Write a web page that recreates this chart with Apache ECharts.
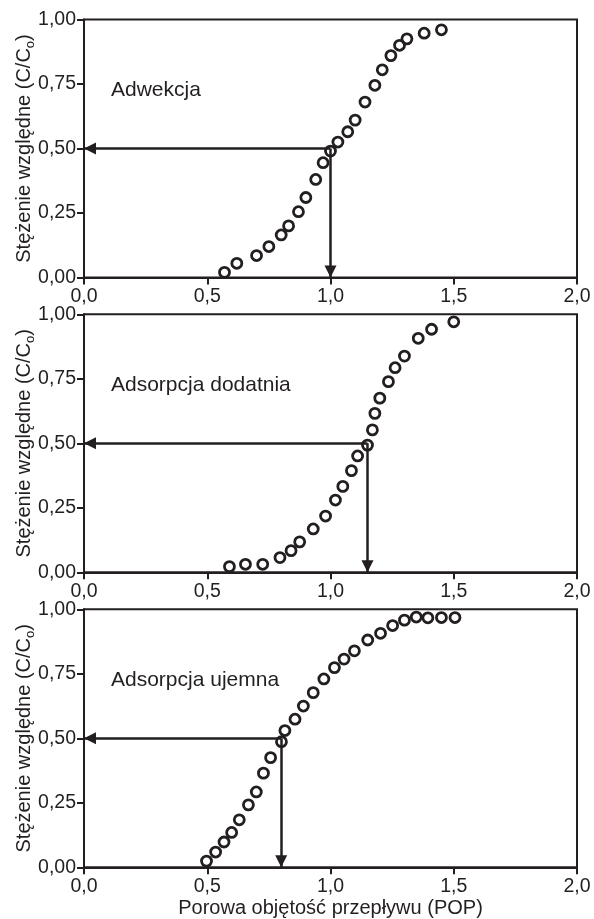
<!DOCTYPE html>
<html>
<head>
<meta charset="utf-8">
<script src="https://cdn.jsdelivr.net/npm/echarts@6/dist/echarts.min.js"></script>
<style>
  html, body { margin: 0; padding: 0; background: #fff; }
  #chart { width: 594px; height: 919px; }
</style>
</head>
<body>
<div id="chart"></div>
<script>
// panel 1 - Adwekcja
var advX = [0.57, 0.62, 0.70, 0.75, 0.80, 0.83, 0.87, 0.90, 0.94, 0.97, 1.00, 1.03, 1.07, 1.10, 1.14, 1.18, 1.21, 1.245, 1.28, 1.31, 1.38, 1.45];
var advY = [0.02, 0.055, 0.085, 0.12, 0.165, 0.20, 0.255, 0.31, 0.38, 0.445, 0.49, 0.525, 0.565, 0.61, 0.68, 0.745, 0.805, 0.86, 0.90, 0.925, 0.947, 0.96];

// panel 2 - Adsorpcja dodatnia
var dodX = [0.59, 0.655, 0.725, 0.795, 0.84, 0.875, 0.93, 0.98, 1.02, 1.05, 1.085, 1.11, 1.15, 1.17, 1.18, 1.20, 1.235, 1.262, 1.30, 1.356, 1.41, 1.50];
var dodY = [0.022, 0.031, 0.031, 0.057, 0.084, 0.118, 0.168, 0.218, 0.28, 0.333, 0.394, 0.451, 0.493, 0.552, 0.616, 0.675, 0.739, 0.793, 0.838, 0.907, 0.942, 0.971];

// panel 3 - Adsorpcja ujemna
var ujX = [0.497, 0.534, 0.568, 0.599, 0.63, 0.667, 0.699, 0.728, 0.757, 0.801, 0.815, 0.856, 0.89, 0.93, 0.973, 1.016, 1.055, 1.097, 1.151, 1.203, 1.252, 1.30, 1.348, 1.395, 1.45, 1.505];
var ujY = [0.024, 0.059, 0.098, 0.135, 0.184, 0.242, 0.292, 0.365, 0.425, 0.487, 0.53, 0.574, 0.625, 0.677, 0.73, 0.774, 0.807, 0.839, 0.881, 0.907, 0.937, 0.958, 0.97, 0.967, 0.968, 0.968];

// POP value where C/C0 = 0.5 (arrows)
var cutX = [1.0, 1.15, 0.8];
var halfY = 0.5;

var panelNames = ['Adwekcja', 'Adsorpcja dodatnia', 'Adsorpcja ujemna'];
var xTicks = ['0,0', '0,5', '1,0', '1,5', '2,0'];
var yTicks = ['0,00', '0,25', '0,50', '0,75', '1,00'];
var xTitle = 'Porowa objętość przepływu (POP)';

var ink = '#231f20';
var font = 'Liberation Sans, Arial, sans-serif';
var panels = [[advX, advY], [dodX, dodY], [ujX, ujY]];
var tops = [19.5, 314.3, 609.3];

var chart = echarts.init(document.getElementById('chart'));

var grids = [], xAxes = [], yAxes = [], series = [], titles = [];

panels.forEach(function (p, i) {
    grids.push({
        left: 84, top: tops[i], width: 493, height: 258,
        outerBoundsMode: 'none', containLabel: false,
        show: true, borderColor: ink, borderWidth: 2
    });
    xAxes.push({
        type: 'value', gridIndex: i, min: 0, max: 2, interval: 0.5,
        splitLine: { show: false },
        axisLine: { lineStyle: { color: ink, width: 2 } },
        axisTick: { length: 7, lineStyle: { color: ink, width: 2 } },
        axisLabel: {
            color: ink, fontSize: 19.5, fontFamily: font, margin: 9,
            formatter: function (v) { return xTicks[Math.round(v / 0.5)]; }
        },
        name: i === 2 ? xTitle : '',
        nameLocation: 'middle', nameGap: 31, nameMoveOverlap: false,
        nameTextStyle: { color: ink, fontSize: 20, fontFamily: font }
    });
    yAxes.push({
        type: 'value', gridIndex: i, min: 0, max: 1, interval: 0.25,
        splitLine: { show: false },
        axisLine: { lineStyle: { color: ink, width: 2 } },
        axisTick: { length: 7, lineStyle: { color: ink, width: 2 } },
        axisLabel: {
            color: ink, fontSize: 19.5, fontFamily: font, margin: 8,
            formatter: function (v) { return yTicks[Math.round(v / 0.25)]; }
        },
        name: '{a|Stężenie względne (C/C}{b|o}{a|)}',
        nameLocation: 'middle', nameGap: 50, nameRotate: 90, nameMoveOverlap: false,
        nameTextStyle: {
            rich: {
                a: { color: ink, fontSize: 20, fontFamily: font, lineHeight: 22, verticalAlign: 'bottom' },
                b: { color: ink, fontSize: 13, fontFamily: font, lineHeight: 22, verticalAlign: 'bottom', padding: [0, 0, -3, 0] }
            }
        }
    });
    titles.push({
        text: panelNames[i], left: 111, top: tops[i] + 60, padding: 0,
        textStyle: { color: ink, fontSize: 21, fontWeight: 'normal', fontFamily: font }
    });
    var c = cutX[i];
    series.push({
        type: 'scatter', xAxisIndex: i, yAxisIndex: i,
        data: p[0].map(function (x, k) { return [x, p[1][k]]; }),
        symbol: 'circle', symbolSize: 10,
        itemStyle: { color: 'rgba(0,0,0,0)', borderColor: ink, borderWidth: 2.8, opacity: 1 },
        z: 3,
        markLine: {
            silent: true, animation: false,
            label: { show: false },
            lineStyle: { color: ink, width: 2.5, type: 'solid' },
            symbol: ['none', 'triangle'], symbolSize: 12,
            data: [
                [{ coord: [c, halfY], symbol: 'none' }, { coord: [0, halfY], symbol: 'triangle', symbolOffset: [0, 6] }],
                [{ coord: [c, halfY], symbol: 'none' }, { coord: [c, 0], symbol: 'triangle', symbolOffset: [0, 6] }]
            ]
        }
    });
});

chart.setOption({
    animation: false,
    backgroundColor: '#fff',
    title: titles,
    grid: grids,
    xAxis: xAxes,
    yAxis: yAxes,
    series: series
});
</script>
</body>
</html>
